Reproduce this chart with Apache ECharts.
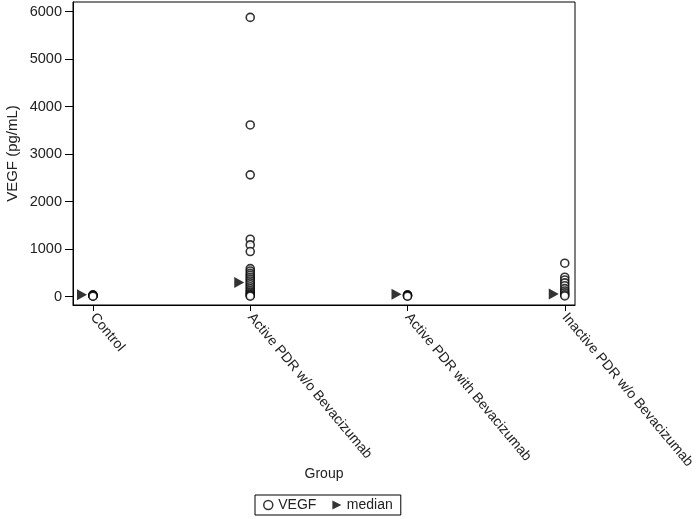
<!DOCTYPE html>
<html><head><meta charset="utf-8">
<script src="https://cdn.jsdelivr.net/npm/echarts@6/dist/echarts.min.js"></script>
<style>html,body{margin:0;padding:0;background:#fff}#c{width:700px;height:519px}</style>
</head><body><div id="c"></div>
<script>
const categories = ['Control', 'Active PDR w/o Bevacizumab', 'Active PDR with Bevacizumab', 'Inactive PDR w/o Bevacizumab'];
const vegfControl = [40, 30, 20, 15, 10];
const vegfActiveWo = [5880, 3615, 2565, 1210, 1090, 950, 590, 540, 490, 450, 410, 370, 330, 290, 250, 210, 170, 130, 100, 70, 45, 25, 10];
const vegfActiveWith = [40, 30, 20, 10];
const vegfInactive = [705, 410, 350, 290, 230, 170, 120, 80, 40, 15];
const medians = [40, 300, 50, 55];
const yTicks = [0, 1000, 2000, 3000, 4000, 5000, 6000];

const groups = [vegfControl, vegfActiveWo, vegfActiveWith, vegfInactive];
const vegfData = [];
groups.forEach((g, i) => g.forEach(v => vegfData.push([i, v])));
const medianData = medians.map((v, i) => [i, v]);

const chart = echarts.init(document.getElementById('c'));
const font = 'Liberation Sans, Arial, sans-serif';
chart.setOption({
  animation: false,
  grid: { left: 73, right: 125, top: 2, bottom: 214, outerBoundsMode: 'none', containLabel: false, show: true, borderColor: '#000', borderWidth: 1, backgroundColor: 'transparent' },
  xAxis: {
    type: 'value', min: -0.127, max: 3.065,
    name: 'Group', nameLocation: 'middle', nameGap: 162,
    nameMoveOverlap: false,
    nameTextStyle: { fontFamily: font, fontSize: 14, color: '#222' },
    axisLine: { show: true, onZero: false, lineStyle: { color: '#000' } },
    splitLine: { show: false },
    axisTick: { show: true, inside: false, length: 6, lineStyle: { color: '#000' }, customValues: [0, 1, 2, 3] },
    axisLabel: {
      customValues: [0, 1, 2, 3], rotate: -50, margin: 10,
      formatter: v => categories[Math.round(v)],
      fontFamily: font, fontSize: 14, color: '#222'
    }
  },
  yAxis: {
    type: 'value', min: -175, max: 6204,
    name: 'VEGF (pg/mL)', nameLocation: 'middle', nameGap: 53,
    nameMoveOverlap: false,
    nameTextStyle: { fontFamily: font, fontSize: 15, color: '#222' },
    axisLine: { show: true, onZero: false, lineStyle: { color: '#000' } },
    splitLine: { show: false },
    axisTick: { show: true, inside: false, length: 8, lineStyle: { color: '#000' }, customValues: yTicks },
    axisLabel: { customValues: yTicks, formatter: v => String(v), fontFamily: font, fontSize: 14.5, color: '#222', margin: 11 }
  },
  legend: {
    bottom: 4, left: 255,
    itemWidth: 10, itemHeight: 9, itemGap: 16,
    borderColor: '#000', borderWidth: 1, padding: [3, 8],
    textStyle: { fontFamily: font, fontSize: 14, color: '#222' },
    data: [
      { name: 'VEGF', icon: 'circle', itemStyle: { color: '#fff', borderColor: '#000', borderWidth: 1.5 } },
      { name: 'median', icon: 'path://M0,0 L10,5 L0,10 Z', itemStyle: { color: '#000' } }
    ]
  },
  series: [
    {
      name: 'VEGF', type: 'scatter', data: vegfData, symbol: 'circle', symbolSize: 8,
      itemStyle: { color: '#fff', borderColor: '#000', borderWidth: 1.6 }, z: 3
    },
    {
      name: 'median', type: 'scatter', data: medianData,
      symbol: 'path://M0,0 L10,5 L0,10 Z', symbolSize: [10, 11], symbolOffset: [-11, 0],
      itemStyle: { color: '#000' }, z: 4
    }
  ]
});
</script></body></html>
